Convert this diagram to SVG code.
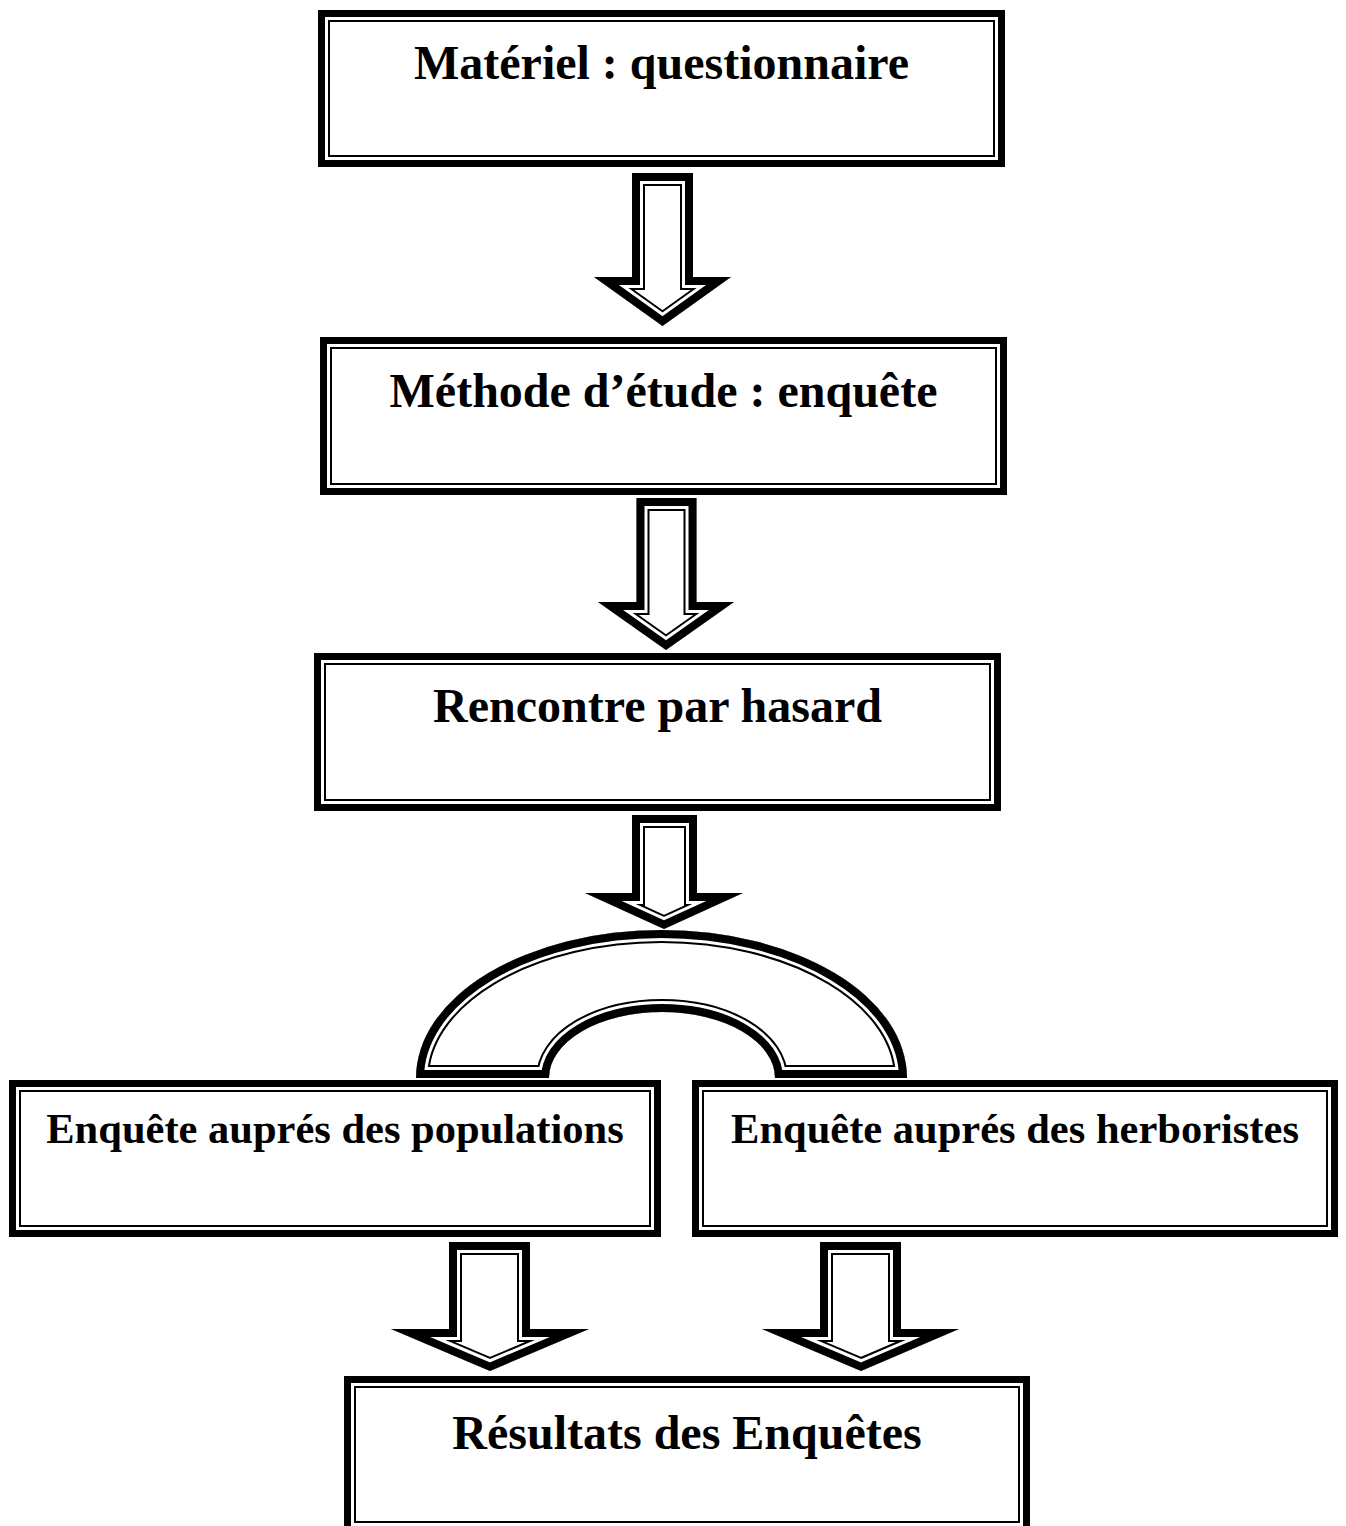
<svg xmlns="http://www.w3.org/2000/svg" xmlns:xlink="http://www.w3.org/1999/xlink" width="1346" height="1526" viewBox="0 0 1346 1526">
<style>
.thick{fill:#fff;stroke:#000;stroke-width:7}
.thin{fill:none;stroke:#000;stroke-width:2}
.fw{fill:#fff;stroke:none}
.s1{fill:none;stroke:#000;stroke-width:26;stroke-linejoin:miter;stroke-miterlimit:10}
.s2{fill:none;stroke:#fff;stroke-width:22;stroke-linejoin:miter;stroke-miterlimit:10}
.s3{fill:none;stroke:#000;stroke-width:16;stroke-linejoin:miter;stroke-miterlimit:10}
.t{font-family:"Liberation Serif","Times New Roman",serif;font-weight:bold;fill:#000;text-anchor:middle}
.big{font-size:48px}
.small{font-size:42.5px}
</style>
<defs>
<path id="a1" d="M632 173 H693 V277 H731 L662.5 326 L594 277 H632 Z"/>
<path id="a2" d="M636.5 498 H696.5 V602 H734 L666 650 L598 602 H636.5 Z"/>
<path id="a3" d="M632 815 H697 V893 H743 L664 929 L585 893 H632 Z"/>
<path id="a4" d="M449 1242 H530 V1329 H589 L490 1371 L391 1329 H449 Z"/>
<path id="a5" d="M820 1242 H901 V1329 H959 L861 1371 L762 1329 H820 Z"/>
<path id="arc" d="M416 1078 A245.5 148 0 0 1 907 1078 L775 1078 A113 66 0 0 0 549 1078 Z"/>
<clipPath id="c1"><use xlink:href="#a1"/></clipPath>
<clipPath id="c2"><use xlink:href="#a2"/></clipPath>
<clipPath id="c3"><use xlink:href="#a3"/></clipPath>
<clipPath id="c4"><use xlink:href="#a4"/></clipPath>
<clipPath id="c5"><use xlink:href="#a5"/></clipPath>
<clipPath id="c6"><use xlink:href="#arc"/></clipPath>
</defs>
<rect width="1346" height="1526" fill="#fff"/>
<g id="connectors">
<g id="arrow1" clip-path="url(#c1)"><use xlink:href="#a1" class="fw"/><use xlink:href="#a1" class="s1"/><use xlink:href="#a1" class="s2"/><use xlink:href="#a1" class="s3"/></g>
<g id="arrow2" clip-path="url(#c2)"><use xlink:href="#a2" class="fw"/><use xlink:href="#a2" class="s1"/><use xlink:href="#a2" class="s2"/><use xlink:href="#a2" class="s3"/></g>
<g id="arrow3" clip-path="url(#c3)"><use xlink:href="#a3" class="fw"/><use xlink:href="#a3" class="s1"/><use xlink:href="#a3" class="s2"/><use xlink:href="#a3" class="s3"/></g>
<g id="split" clip-path="url(#c6)"><use xlink:href="#arc" class="fw"/><use xlink:href="#arc" class="s1"/><use xlink:href="#arc" class="s2"/><use xlink:href="#arc" class="s3"/></g>
<g id="arrow4" clip-path="url(#c4)"><use xlink:href="#a4" class="fw"/><use xlink:href="#a4" class="s1"/><use xlink:href="#a4" class="s2"/><use xlink:href="#a4" class="s3"/></g>
<g id="arrow5" clip-path="url(#c5)"><use xlink:href="#a5" class="fw"/><use xlink:href="#a5" class="s1"/><use xlink:href="#a5" class="s2"/><use xlink:href="#a5" class="s3"/></g>
</g>
<g id="n1">
<rect class="thick" x="321.5" y="13.5" width="680" height="150"/>
<rect class="thin" x="329" y="21" width="665" height="135"/>
<text class="t big" x="661.5" y="79">Matériel : questionnaire</text>
</g>
<g id="n2">
<rect class="thick" x="323.5" y="340.5" width="680" height="151"/>
<rect class="thin" x="331" y="348" width="665" height="136"/>
<text class="t big" x="663.5" y="407">Méthode d’étude : enquête</text>
</g>
<g id="n3">
<rect class="thick" x="317.5" y="656.5" width="680" height="151"/>
<rect class="thin" x="325" y="664" width="665" height="136"/>
<text class="t big" x="657.5" y="722">Rencontre par hasard</text>
</g>
<g id="n4">
<rect class="thick" x="12.5" y="1083.5" width="645" height="150"/>
<rect class="thin" x="20" y="1091" width="630" height="135"/>
<text class="t small" x="335" y="1143">Enquête auprés des populations</text>
</g>
<g id="n5">
<rect class="thick" x="695.5" y="1083.5" width="639" height="150"/>
<rect class="thin" x="703" y="1091" width="624" height="135"/>
<text class="t small" x="1015" y="1143">Enquête auprés des herboristes</text>
</g>
<g id="n6">
<rect class="thick" x="347.5" y="1379.5" width="679" height="150"/>
<rect class="thin" x="355" y="1387" width="664" height="135"/>
<text class="t big" x="687" y="1449">Résultats des Enquêtes</text>
</g>
</svg>
